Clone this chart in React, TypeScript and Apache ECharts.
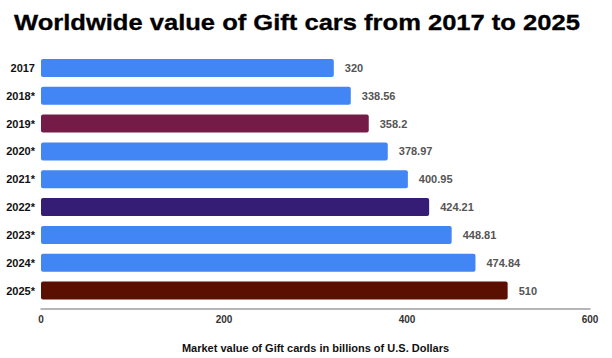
import React, { useEffect, useRef } from "react";
import * as echarts from "echarts";

const titleText = "Worldwide value of Gift cars from 2017 to 2025";
const axisTitle = "Market value of Gift cards in billions of U.S. Dollars";
const categories = ["2017", "2018*", "2019*", "2020*", "2021*", "2022*", "2023*", "2024*", "2025*"];
const values = [320, 338.56, 358.2, 378.97, 400.95, 424.21, 448.81, 474.84, 510];
const barColors = ["#4285f4", "#4285f4", "#741b47", "#4285f4", "#4285f4", "#351c75", "#4285f4", "#4285f4", "#5b0f00"];
const xTicks = { min: 0, max: 600, interval: 200 };

const FONT = "'Liberation Sans', Arial, sans-serif";

export default function App() {
  const ref = useRef<HTMLDivElement>(null);
  useEffect(() => {
    if (!ref.current) return;
    const chart = echarts.init(ref.current, null, { renderer: "svg" });
    chart.setOption({
      animation: false,
      backgroundColor: "#ffffff",
      graphic: [
        {
          type: "text",
          x: 14,
          y: 22,
          scaleX: 1.162,
          style: {
            text: titleText,
            fontFamily: FONT,
            fontSize: 22,
            fontWeight: "bold",
            fill: "#000000",
            stroke: "#000000",
            lineWidth: 0.3,
            verticalAlign: "middle",
            align: "left",
          },
        },
      ],
      grid: { left: 41, right: 22, top: 54, bottom: 52.5 },
      xAxis: {
        type: "value",
        min: xTicks.min,
        max: xTicks.max,
        interval: xTicks.interval,
        offset: 4.5,
        axisLine: { show: true, lineStyle: { color: "#9e9e9e", width: 1.5 } },
        axisTick: { show: false },
        splitLine: { show: false },
        axisLabel: {
          margin: 5,
          fontFamily: FONT,
          fontSize: 10,
          fontWeight: "bold",
          color: "#333333",
        },
        name: axisTitle,
        nameLocation: "middle",
        nameGap: 33,
        nameTextStyle: {
          fontFamily: FONT,
          fontSize: 11,
          fontWeight: "bold",
          color: "#111111",
        },
      },
      yAxis: {
        type: "category",
        data: categories,
        inverse: true,
        axisLine: { show: false },
        axisTick: { show: false },
        splitLine: { show: false },
        axisLabel: {
          margin: 6,
          fontFamily: FONT,
          fontSize: 11,
          fontWeight: "bold",
          color: "#111111",
        },
      },
      series: [
        {
          type: "bar",
          data: values.map((v, i) => ({ value: v, itemStyle: { color: barColors[i] } })),
          barWidth: 18,
          itemStyle: { borderRadius: 2 },
          label: {
            show: true,
            position: "right",
            distance: 11,
            fontFamily: FONT,
            fontSize: 11,
            fontWeight: "bold",
            color: "#555555",
          },
        },
      ],
    });
    return () => chart.dispose();
  }, []);
  return <div ref={ref} style={{ width: 612, height: 358, position: "absolute", left: 0, top: 0 }} />;
}
